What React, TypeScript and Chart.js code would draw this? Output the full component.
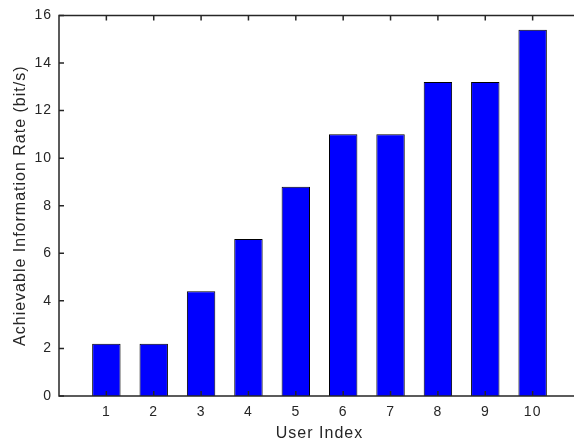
import React, { useEffect, useRef } from "react";
import { Chart, registerables } from "chart.js";

Chart.register(...registerables);

const users = [1, 2, 3, 4, 5, 6, 7, 8, 9, 10];
const rates = [2.2, 2.2, 4.4, 6.6, 8.8, 11, 11, 13.2, 13.2, 15.4];
const xTicks = [1, 2, 3, 4, 5, 6, 7, 8, 9, 10];
const yTicks = [0, 2, 4, 6, 8, 10, 12, 14, 16];

const AXIS = "#262626";
const FONT = "'Liberation Sans', Arial, Helvetica, sans-serif";

const spacingPlugin = {
  id: "letterSpacing",
  beforeDraw(chart: any) {
    try {
      (chart.ctx as any).letterSpacing = "1px";
    } catch (e) {}
  },
};

const axesPlugin = {
  id: "matlabAxes",
  afterDatasetsDraw(chart: any) {
    const { ctx, chartArea, scales } = chart;
    const { left, right, top, bottom } = chartArea;
    const tl = 5;
    ctx.save();
    ctx.strokeStyle = AXIS;
    ctx.lineWidth = 1.5;
    ctx.beginPath();
    ctx.rect(left, top, right - left, bottom - top);
    ctx.stroke();
    ctx.beginPath();
    for (const v of xTicks) {
      const x = scales.x.getPixelForValue(v);
      ctx.moveTo(x, bottom);
      ctx.lineTo(x, bottom - tl);
      ctx.moveTo(x, top);
      ctx.lineTo(x, top + tl);
    }
    for (const v of yTicks) {
      const y = scales.y.getPixelForValue(v);
      ctx.moveTo(left, y);
      ctx.lineTo(left + tl, y);
      ctx.moveTo(right, y);
      ctx.lineTo(right - tl, y);
    }
    ctx.stroke();
    ctx.restore();
  },
};

export default function App() {
  const ref = useRef<HTMLCanvasElement | null>(null);
  useEffect(() => {
    if (!ref.current) return;
    const chart = new Chart(ref.current, {
      type: "bar",
      data: {
        datasets: [
          {
            data: users.map((u, i) => ({ x: u, y: rates[i] })),
            backgroundColor: "#0000ff",
            borderColor: "#000000",
            borderWidth: 1,
            categoryPercentage: 1,
            barPercentage: 0.6,
          },
        ],
      },
      options: {
        animation: false,
        responsive: false,
        maintainAspectRatio: false,
        layout: { padding: { top: 15, right: 2, left: 0, bottom: 0 } },
        plugins: { legend: { display: false }, tooltip: { enabled: false } },
        scales: {
          x: {
            type: "linear",
            min: 0,
            max: 11,
            offset: false,
            afterBuildTicks: (axis: any) => {
              axis.ticks = xTicks.map((v) => ({ value: v }));
            },
            afterFit: (axis: any) => {
              axis.height = 49;
            },
            grid: { display: false, drawTicks: false },
            border: { display: false },
            ticks: {
              autoSkip: false,
              maxRotation: 0,
              padding: 8,
              color: AXIS,
              font: { family: FONT, size: 14 },
            },
            title: {
              display: true,
              text: "User Index",
              color: AXIS,
              font: { family: FONT, size: 16 },
              padding: { top: 0, bottom: 2 },
            },
          },
          y: {
            min: 0,
            max: 16,
            afterBuildTicks: (axis: any) => {
              axis.ticks = yTicks.map((v) => ({ value: v }));
            },
            afterFit: (axis: any) => {
              axis.width = 59;
            },
            grid: { display: false, drawTicks: false },
            border: { display: false },
            ticks: {
              padding: 7,
              color: AXIS,
              font: { family: FONT, size: 14 },
            },
            title: {
              display: true,
              text: "Achievable Information Rate (bit/s)",
              color: AXIS,
              font: { family: FONT, size: 16 },
              padding: { top: 11, bottom: 0 },
            },
          },
        },
      },
      plugins: [spacingPlugin, axesPlugin],
    } as any);
    return () => chart.destroy();
  }, []);
  return (
    <div
      style={{
        position: "absolute",
        left: 0,
        top: 0,
        width: 574,
        height: 445,
        overflow: "hidden",
        background: "#ffffff",
      }}
    >
      <canvas ref={ref} width={582} height={445} style={{ width: 582, height: 445, display: "block" }} />
    </div>
  );
}
